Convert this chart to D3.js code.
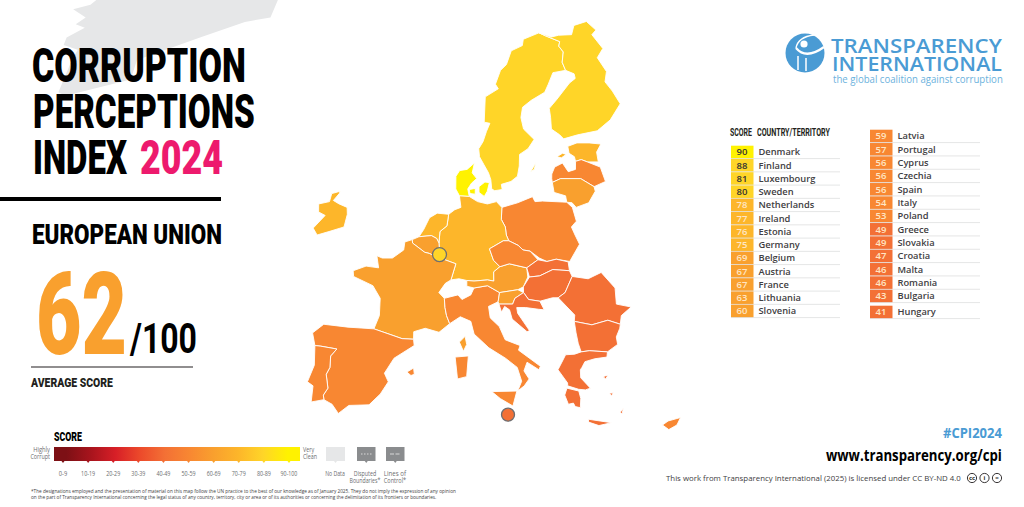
<!DOCTYPE html>
<html>
<head>
<meta charset="utf-8">
<script src="https://cdn.jsdelivr.net/npm/d3@7"></script>
<style>
  html, body { margin: 0; padding: 0; background: #fff; }
  svg { display: block; }
  text { font-family: "Open Sans", sans-serif; }
  .heavy { font-family: Roboto, "Open Sans", sans-serif; }
</style>
</head>
<body>
<svg id="chart" width="1024" height="507"></svg>
<script>
// ranking
var leftCountries = ["Denmark", "Finland", "Luxembourg", "Sweden", "Netherlands", "Ireland", "Estonia", "Germany", "Belgium", "Austria", "France", "Lithuania", "Slovenia"];
var leftScores = [90, 88, 81, 80, 78, 77, 76, 75, 69, 67, 67, 63, 60];
var rightCountries = ["Latvia", "Portugal", "Cyprus", "Czechia", "Spain", "Italy", "Poland", "Greece", "Slovakia", "Croatia", "Malta", "Romania", "Bulgaria", "Hungary"];
var rightScores = [59, 57, 56, 56, 56, 54, 53, 49, 49, 47, 46, 46, 43, 41];

var legendLabels = ["0-9", "10-19", "20-29", "30-39", "40-49", "50-59", "60-69", "70-79", "80-89", "90-100"];
var legendColors = ["#7d1015", "#a8141d", "#d71f27", "#ec4a2b", "#f37035", "#f88732", "#f9a02e", "#fdb62a", "#ffd528", "#fff200"];
var legendThresholds = [10, 20, 30, 40, 50, 60, 70, 80, 90];

// outlines as lon/lat
var denmark = [
  [[8.6,54.9],[8.1,55.5],[8.1,56.6],[8.6,57.1],[9.6,57.2],[10.6,57.75],[10.3,56.9],[10.9,56.4],[10.2,56.0],[9.7,55.5],[9.9,54.85]],
  [[11.2,55.7],[12.0,56.1],[12.6,56.05],[12.3,55.3],[11.9,54.85],[11.2,55.2]],
  [[9.9,55.45],[10.7,55.55],[10.7,55.05],[10.0,55.1]]
];
var sweden = [
  [[20.55,69.06],[18.1,68.5],[17.9,67.95],[16.2,67.5],[15.4,66.3],[14.5,65.8],[13.7,64.6],[14.1,64.2],[12.2,63.5],[12.0,61.3],[12.8,61.2],[12.3,60.5],[11.8,59.6],[11.2,59.0],[11.3,58.3],[11.9,57.6],[12.5,56.9],[12.8,56.3],[12.9,55.5],[13.3,55.35],[14.3,55.45],[14.2,55.9],[15.5,56.15],[16.4,56.6],[16.7,57.5],[16.8,58.5],[18.0,59.0],[18.9,59.8],[17.5,60.7],[17.2,61.7],[17.5,62.6],[18.8,63.2],[20.8,63.9],[21.4,64.6],[22.2,65.6],[24.1,65.8],[23.7,66.5],[24.0,67.4],[23.4,67.9],[23.6,68.3],[21.5,68.8]],
  [[18.2,57.0],[19.0,57.8],[18.7,57.2]]
];
var finland = [
  [[20.55,69.06],[21.5,68.8],[23.6,68.3],[23.4,67.9],[24.0,67.4],[23.7,66.5],[24.1,65.8],[25.3,65.5],[25.4,65.1],[24.5,64.7],[22.5,63.3],[21.3,62.5],[21.4,61.7],[21.4,60.7],[22.5,60.2],[23.0,59.85],[25.0,60.2],[27.8,60.55],[29.8,61.5],[31.5,62.9],[30.6,64.0],[29.7,64.8],[30.1,65.7],[29.0,66.9],[30.0,67.7],[28.6,68.9],[29.3,69.3],[28.0,70.05],[26.0,69.7],[25.5,68.9],[23.5,68.85],[22.4,68.7]]
];
var estonia = [
  [[23.5,59.2],[24.8,59.5],[26.5,59.5],[28.1,59.4],[27.4,58.7],[27.5,57.85],[26.0,57.85],[25.2,58.05],[24.4,57.9],[24.3,58.3],[23.6,58.6]],
  [[21.9,58.3],[22.7,58.6],[23.2,58.5],[22.5,58.2]]
];
var latvia = [
  [[21.05,56.8],[21.0,56.4],[21.05,56.07],[22.2,56.4],[24.9,56.4],[26.6,55.7],[28.2,56.15],[27.7,57.4],[26.0,57.85],[25.2,58.05],[24.4,57.9],[24.3,57.2],[23.3,57.0],[22.6,57.75],[21.5,57.4]]
];
var lithuania = [
  [[21.05,56.07],[22.2,56.4],[24.9,56.4],[26.6,55.7],[26.7,55.3],[25.7,54.3],[24.0,53.9],[23.5,54.3],[22.8,54.35],[22.7,54.9],[21.2,55.2]]
];
var poland = [
  [[14.2,53.9],[16.3,54.3],[18.3,54.83],[18.6,54.4],[19.6,54.45],[22.8,54.35],[23.5,53.9],[23.9,52.7],[23.2,52.2],[23.6,51.5],[24.1,50.7],[22.7,49.2],[21.0,49.4],[19.8,49.2],[18.85,49.5],[17.7,50.1],[16.8,50.2],[16.2,50.6],[15.0,51.0],[14.7,51.5],[14.6,52.2],[14.1,52.85]]
];
var germany = [
  [[8.6,54.9],[9.9,54.85],[11.0,54.4],[12.3,54.2],[13.5,54.4],[14.2,53.9],[14.1,52.85],[14.6,52.2],[14.7,51.5],[15.0,51.0],[14.3,51.0],[12.5,50.3],[13.0,49.3],[13.8,48.75],[13.0,48.3],[13.0,47.5],[12.2,47.6],[10.5,47.5],[9.6,47.55],[8.6,47.7],[7.6,47.6],[8.2,49.0],[6.4,49.45],[6.1,50.1],[6.0,50.8],[6.1,51.8],[7.0,52.3],[7.2,53.3],[8.0,53.7],[8.8,53.9]]
];
var netherlands = [
  [[7.2,53.3],[7.0,52.3],[6.1,51.8],[6.0,50.8],[5.7,51.2],[5.0,51.45],[3.4,51.35],[4.0,52.0],[4.7,53.0],[5.7,53.4]]
];
var belgium = [
  [[2.55,51.1],[3.4,51.35],[5.0,51.45],[5.7,51.2],[6.0,50.8],[6.1,50.1],[5.8,49.55],[4.8,49.9],[4.2,50.0],[2.6,50.8]]
];
var luxembourg = [
  [[5.8,49.55],[6.1,50.1],[6.4,49.45]]
];
var france = [
  [[2.55,51.1],[2.6,50.8],[4.2,50.0],[4.8,49.9],[5.8,49.55],[6.4,49.45],[8.2,49.0],[7.6,47.6],[6.9,47.3],[6.1,46.5],[6.8,46.0],[6.9,45.2],[7.1,44.5],[7.5,43.8],[6.2,43.05],[4.5,43.4],[3.1,43.1],[3.1,42.45],[1.7,42.5],[-1.8,43.35],[-1.2,44.5],[-1.2,46.0],[-2.2,47.1],[-4.7,47.9],[-4.8,48.4],[-3.2,48.8],[-1.6,48.65],[-1.9,49.7],[-1.2,49.5],[0.1,49.5],[1.5,50.2],[1.6,50.9]],
  [[9.4,42.7],[9.6,42.0],[9.2,41.4],[8.7,42.2]]
];
var spain = [
  [[-1.8,43.35],[1.7,42.5],[3.1,42.45],[3.2,41.9],[0.8,40.8],[-0.3,39.5],[0.2,38.75],[-0.7,37.7],[-2.0,36.75],[-4.4,36.7],[-5.6,36.0],[-6.4,36.8],[-7.4,37.2],[-7.5,37.6],[-7.0,38.2],[-7.3,39.4],[-6.9,40.0],[-6.9,41.0],[-6.2,41.6],[-8.2,41.85],[-8.9,41.9],[-9.3,43.0],[-8.0,43.75],[-5.0,43.5]],
  [[2.4,39.6],[3.2,39.95],[3.3,39.4],[2.9,39.3]]
];
var portugal = [
  [[-8.9,41.9],[-8.2,41.85],[-6.2,41.6],[-6.9,41.0],[-6.9,40.0],[-7.3,39.4],[-7.0,38.2],[-7.5,37.6],[-7.4,37.2],[-8.9,37.0],[-8.8,38.4],[-9.5,38.75],[-8.8,40.2]]
];
var ireland = [
  [[-6.2,53.9],[-7.3,54.2],[-8.1,54.5],[-7.4,55.1],[-7.3,55.3],[-8.4,55.1],[-8.6,54.4],[-10.0,54.2],[-9.9,53.5],[-9.0,53.2],[-10.4,52.1],[-9.8,51.5],[-8.3,51.8],[-6.4,52.2],[-6.1,53.3]]
];
var italy = [
  [[7.5,43.8],[7.1,44.5],[6.9,45.2],[6.8,46.0],[8.5,46.3],[9.0,45.9],[10.1,46.3],[10.5,46.9],[12.2,47.1],[13.7,46.5],[13.5,45.7],[12.3,45.3],[12.5,44.3],[13.6,43.55],[14.3,42.4],[16.1,41.9],[15.9,41.5],[18.5,40.1],[18.3,39.8],[16.9,40.45],[16.5,39.7],[17.1,39.0],[16.5,38.4],[15.7,37.95],[16.2,38.8],[15.7,40.0],[14.3,40.8],[12.3,41.7],[10.5,42.9],[10.1,44.0],[8.8,44.4]],
  [[8.2,40.9],[9.8,41.0],[9.6,39.2],[8.5,39.0]],
  [[12.6,37.9],[15.6,37.95],[15.1,36.65],[13.6,37.3]]
];
var austria = [
  [[9.6,47.55],[10.5,47.5],[12.2,47.6],[13.0,47.5],[13.0,48.3],[13.8,48.75],[15.0,49.0],[17.2,48.65],[17.3,47.85],[16.7,47.0],[16.0,46.75],[13.7,46.5],[12.2,47.1],[10.5,46.9],[9.6,47.05]]
];
var czechia = [
  [[12.5,50.3],[14.3,51.0],[15.0,51.0],[16.2,50.6],[16.8,50.2],[17.7,50.1],[18.66,49.35],[17.2,48.65],[15.0,49.0],[13.8,48.75],[13.0,49.3]]
];
var slovakia = [
  [[17.2,48.65],[18.66,49.35],[19.8,49.2],[21.0,49.4],[22.5,49.17],[22.6,48.4],[20.5,48.5],[18.8,47.95],[17.5,47.85]]
];
var hungary = [
  [[17.5,47.85],[18.8,47.95],[20.5,48.5],[22.6,48.4],[22.9,47.9],[21.9,46.5],[21.0,46.05],[20.3,46.05],[18.7,45.75],[17.3,45.9],[16.7,46.5],[16.7,47.0]]
];
var slovenia = [
  [[13.7,46.5],[16.0,46.75],[16.7,46.5],[15.6,46.0],[15.3,45.5],[13.6,45.5],[13.5,45.7]]
];
var croatia = [
  [[13.6,45.5],[15.3,45.5],[15.6,46.0],[16.7,46.5],[17.3,45.9],[18.7,45.75],[19.2,45.0],[18.5,45.05],[16.9,45.2],[15.8,45.2],[15.9,44.7],[17.3,43.2],[17.0,43.1],[15.2,44.2],[14.9,45.0],[14.3,45.3],[13.9,44.8]]
];
var romania = [
  [[21.0,46.05],[21.9,46.5],[22.9,47.9],[24.9,47.7],[26.6,48.25],[28.2,46.9],[28.2,45.5],[30.0,45.25],[28.7,44.5],[28.5,43.75],[27.0,44.1],[25.0,43.7],[22.85,44.0],[22.95,44.55]]
];
var bulgaria = [
  [[22.85,44.0],[25.0,43.7],[27.0,44.1],[28.5,43.75],[28.4,43.4],[27.9,42.65],[28.0,42.0],[26.7,41.35],[24.5,41.45],[23.5,41.35],[23.2,42.1],[23.0,43.0]]
];
var greece = [
  [[20.6,39.8],[21.26,40.65],[21.6,41.1],[22.7,41.15],[23.5,41.35],[24.5,41.45],[26.7,41.35],[26.6,40.9],[25.1,40.75],[23.9,40.5],[23.5,40.0],[23.3,39.8],[23.3,39.1],[24.4,38.2],[23.8,38.05],[23.0,38.1],[21.7,38.4],[21.7,38.65]],
  [[21.6,38.2],[23.0,37.95],[23.2,37.3],[23.1,36.5],[22.5,36.6],[22.3,36.9],[21.7,36.8],[21.3,37.6]],
  [[24.0,35.5],[26.7,35.2],[25.2,34.95],[24.0,35.25]],
  [[27.8,36.1],[28.2,36.45],[28.0,35.95]],
  [[26.0,39.2],[26.6,39.35],[26.3,39.0]],
  [[26.6,37.75],[27.1,37.8],[26.9,37.55]]
];
var cyprus = [
  [[32.7,35.0],[33.4,35.35],[34.9,35.65],[34.4,35.0],[33.4,34.6]]
];
var greenland = [
  [[-48.3,72.5],[-49.8,71.5],[-52.2,71.1],[-49.7,70.4],[-50.8,69.8],[-49.2,69.5],[-51.4,68.65],[-51.4,68.0],[-49.0,67.6],[-49.3,66.7],[-49.5,63.9],[-48.3,63.6],[-39.6,65.0],[-39.6,66.7],[-30.9,68.7],[-24.8,70.0],[-21.0,70.4],[-20.2,72.5]]
];

var mapCountries = [
  {name: "Denmark", rings: denmark}, {name: "Sweden", rings: sweden}, {name: "Finland", rings: finland},
  {name: "Estonia", rings: estonia}, {name: "Latvia", rings: latvia}, {name: "Lithuania", rings: lithuania},
  {name: "Poland", rings: poland}, {name: "Germany", rings: germany}, {name: "Netherlands", rings: netherlands},
  {name: "Belgium", rings: belgium}, {name: "Luxembourg", rings: luxembourg}, {name: "France", rings: france},
  {name: "Spain", rings: spain}, {name: "Portugal", rings: portugal}, {name: "Ireland", rings: ireland},
  {name: "Italy", rings: italy}, {name: "Austria", rings: austria}, {name: "Czechia", rings: czechia},
  {name: "Slovakia", rings: slovakia}, {name: "Hungary", rings: hungary}, {name: "Slovenia", rings: slovenia},
  {name: "Croatia", rings: croatia}, {name: "Romania", rings: romania}, {name: "Bulgaria", rings: bulgaria},
  {name: "Greece", rings: greece}, {name: "Cyprus", rings: cyprus}
];
var markerCountries = [
  {name: "Luxembourg", at: [6.1, 49.8], r: 7},
  {name: "Malta", at: [14.5, 35.9], r: 6.5}
];

var scoreByName = {};
leftCountries.forEach(function (c, i) { scoreByName[c] = leftScores[i]; });
rightCountries.forEach(function (c, i) { scoreByName[c] = rightScores[i]; });

var scoreColor = d3.scaleThreshold().domain(legendThresholds).range(legendColors);

// robinson-like: latitudes evenly spaced, meridians pinched toward the pole
var latToY = d3.scaleLinear().domain([35, 70]).range([425, 22]);
var lonStretch = d3.scaleLinear()
  .domain([35, 40, 45, 50, 55, 60, 65, 70, 75])
  .range([8.48, 8.29, 8.07, 7.81, 7.52, 7.19, 6.84, 6.47, 6.06]);
function project(p) {
  return [470 + (p[0] - 10) * lonStretch(p[1]), latToY(p[1])];
}
var ringLine = d3.line()
  .x(function (p) { return project(p)[0]; })
  .y(function (p) { return project(p)[1]; })
  .curve(d3.curveLinearClosed);

var svg = d3.select("#chart");

// grey landmass behind the title
svg.append("g").selectAll("path").data(greenland).enter().append("path")
  .attr("d", ringLine).attr("fill", "#e6e7e8");

// map
var countryGroups = svg.append("g").selectAll("g").data(mapCountries).enter().append("g");
countryGroups.selectAll("path").data(function (d) {
    return d.rings.map(function (r) { return {ring: r, name: d.name}; });
  }).enter().append("path")
  .attr("d", function (d) { return ringLine(d.ring); })
  .attr("fill", function (d) { return scoreColor(scoreByName[d.name]); })
  .attr("stroke", "#fff")
  .attr("stroke-width", 0.9)
  .attr("stroke-linejoin", "round");

svg.append("g").selectAll("circle").data(markerCountries).enter().append("circle")
  .attr("cx", function (d) { return project(d.at)[0]; })
  .attr("cy", function (d) { return project(d.at)[1]; })
  .attr("r", function (d) { return d.r; })
  .attr("fill", function (d) { return scoreColor(scoreByName[d.name]); })
  .attr("stroke", "#6d6e71")
  .attr("stroke-width", 1.3);

// squeezes a text to the width it has in the picture, the condensed fonts are not installed
function fitText(str, x, y, size, width, color, weight, cls, anchor) {
  var t = svg.append("text").attr("class", cls || "heavy")
    .attr("font-size", size).attr("font-weight", weight || 700).attr("fill", color || "#000").text(str);
  var natural = t.node().getComputedTextLength();
  var left = anchor === "end" ? x - width : anchor === "middle" ? x - width / 2 : x;
  t.attr("transform", "translate(" + left + "," + y + ") scale(" + (width / natural) + ",1)");
  return t;
}

// title block
fitText("CORRUPTION", 32, 82, 47.5, 214, "#000", 900);
fitText("PERCEPTIONS", 33, 128, 47.5, 222, "#000", 900);
fitText("INDEX", 33, 174, 47.5, 94, "#000", 900);
fitText("2024", 140, 174, 47.5, 83, "#ed1a6d", 900);
svg.append("rect").attr("x", 0).attr("y", 197).attr("width", 221).attr("height", 4).attr("fill", "#000");
fitText("EUROPEAN UNION", 32, 244, 28, 190, "#000", 900);
fitText("62", 36, 354, 115, 91, "#f9a02e", 900);
fitText("/100", 130, 353, 43, 67, "#000", 700);
svg.append("rect").attr("x", 31).attr("y", 366.5).attr("width", 162).attr("height", 1).attr("fill", "#231f20");
fitText("AVERAGE SCORE", 31, 387, 13.5, 82, "#231f20", 900);

// ranking table
function drawColumn(names, scores, rowY, x0, lineEnd) {
  var rows = svg.append("g").selectAll("g").data(names).enter().append("g");
  rows.append("rect")
    .attr("x", x0).attr("y", function (d) { return rowY(d) - 6.3; })
    .attr("width", 22.5).attr("height", 12.6)
    .attr("fill", function (d, i) { return scoreColor(scores[i]); });
  rows.append("line")
    .attr("x1", x0).attr("x2", lineEnd)
    .attr("y1", function (d) { return rowY(d) + 6.6; })
    .attr("y2", function (d) { return rowY(d) + 6.6; })
    .attr("stroke", "#d1d3d4").attr("stroke-width", 0.6);
  rows.append("text")
    .attr("x", x0 + 11).attr("y", function (d) { return rowY(d) + 3.4; })
    .attr("text-anchor", "middle").attr("font-size", 9.5).attr("font-weight", 600)
    .attr("fill", function (d, i) { return scores[i] >= 80 ? "#333" : "#ffe6c4"; })
    .text(function (d, i) { return scores[i]; });
  rows.append("text")
    .attr("x", x0 + 27.5).attr("y", function (d) { return rowY(d) + 3.4; })
    .attr("font-size", 9.3).attr("font-weight", 600).attr("fill", "#414042")
    .text(function (d) { return d; });
}
var leftRow = d3.scalePoint().domain(leftCountries).range([152, 311]);
var rightRow = d3.scalePoint().domain(rightCountries.slice(0, 13)).range([136, 296]);
function rightRowY(name) {
  return name === "Hungary" ? rightRow("Bulgaria") + 16 : rightRow(name);
}
drawColumn(leftCountries, leftScores, leftRow, 731, 840);
drawColumn(rightCountries, rightScores, rightRowY, 870, 980);
fitText("SCORE", 730, 136, 10, 22, "#231f20", 700);
fitText("COUNTRY/TERRITORY", 757, 136, 10, 73, "#231f20", 700);

// legend
var defs = svg.append("defs");
var grad = defs.append("linearGradient").attr("id", "scoreGrad");
grad.selectAll("stop").data(legendColors).enter().append("stop")
  .attr("offset", function (d, i) { return (i + 0.5) / legendColors.length; })
  .attr("stop-color", function (d) { return d; });
fitText("SCORE", 54, 441, 12.5, 28, "#000", 900);
var legendX = d3.scalePoint().domain(legendLabels).range([63, 289]);
svg.append("rect").attr("x", 54).attr("y", 447).attr("width", 246).attr("height", 14).attr("fill", "url(#scoreGrad)");
function pointer(x, color) {
  svg.append("path")
    .attr("d", "M" + (x - 1.5) + ",461L" + (x + 1.5) + ",461L" + x + ",463Z")
    .attr("fill", color);
}
legendLabels.forEach(function (d) { pointer(legendX(d), scoreColor(+d.split("-")[0])); });

// grey condensed labels, about 2.8px a character in the picture
function greyLabel(lines, x, y, anchor) {
  lines.forEach(function (t, i) {
    fitText(t, x, y + i * 7, 8, t.length * 2.8, "#6d6e71", 400, "base", anchor);
  });
}
legendLabels.forEach(function (d) { greyLabel([d], legendX(d), 476, "middle"); });
greyLabel(["Highly", "Corrupt"], 50, 452, "end");
greyLabel(["Very", "Clean"], 303, 452, "start");
greyLabel(["No Data"], 335, 476, "middle");
greyLabel(["Disputed", "Boundaries*"], 365, 476, "middle");
greyLabel(["Lines of", "Control*"], 395, 476, "middle");
svg.append("rect").attr("x", 326).attr("y", 447).attr("width", 19).attr("height", 14).attr("fill", "#e6e7e8");
pointer(335.5, "#e6e7e8");
[357, 386].forEach(function (x, i) {
  svg.append("rect").attr("x", x).attr("y", 447).attr("width", 18.5).attr("height", 14).attr("fill", "#8a8c8e");
  svg.append("line").attr("x1", x + 4).attr("x2", x + 14.5).attr("y1", 454).attr("y2", 454)
    .attr("stroke", "#d8d8d8").attr("stroke-width", 1).attr("stroke-dasharray", i ? "4,1.5" : "1.5,1.5");
  pointer(x + 9.25, "#8a8c8e");
});
fitText("*The designations employed and the presentation of material on this map follow the UN practice to the best of our knowledge as of January 2025. They do not imply the expression of any opinion", 31, 492.5, 5.4, 426, "#414042", 400, "base");
fitText("on the part of Transparency International concerning the legal status of any country, territory, city or area or of its authorities or concerning the delimitation of its frontiers or boundaries.", 31, 498.5, 5.4, 406, "#414042", 400, "base");

// logo
var logo = svg.append("g");
logo.append("circle").attr("cx", 805).attr("cy", 53).attr("r", 19.5).attr("fill", "#4a9bd4");
logo.append("path").attr("d", "M796,48 Q806,60 824,47").attr("fill", "none").attr("stroke", "#fff").attr("stroke-width", 2.2);
logo.append("path").attr("d", "M796,48 Q798,37 814,35").attr("fill", "none").attr("stroke", "#fff").attr("stroke-width", 1.4);
logo.append("circle").attr("cx", 804).attr("cy", 44).attr("r", 3.6).attr("fill", "#fff");
logo.append("path").attr("d", "M798,56 L798,70 M806,58 L806,71").attr("fill", "none").attr("stroke", "#fff").attr("stroke-width", 1.5);
fitText("TRANSPARENCY", 831, 53, 19.5, 171, "#4a9bd4", 600, "base");
fitText("INTERNATIONAL", 832, 71, 19.5, 170, "#4a9bd4", 600, "base");
fitText("the global coalition against corruption", 833, 83, 10.5, 170, "#6cb2dd", 400, "base");

// footer, right
fitText("#CPI2024", 943, 438, 14.5, 59, "#4a9bd4", 700, "base");
fitText("www.transparency.org/cpi", 826, 461, 16.5, 176, "#000", 700, "base");
fitText("This work from Transparency International (2025) is licensed under CC BY-ND 4.0", 666, 481, 7.6, 295, "#414042", 400, "base");
var ccMarks = ["cc", "i", "="];
svg.append("g").selectAll("circle").data(ccMarks).enter().append("circle")
  .attr("cx", function (d, i) { return 972 + i * 12.5; }).attr("cy", 478).attr("r", 4.6)
  .attr("fill", "#fff").attr("stroke", "#231f20").attr("stroke-width", 0.9);
svg.append("g").selectAll("text").data(ccMarks).enter().append("text")
  .attr("x", function (d, i) { return 972 + i * 12.5; }).attr("y", 480)
  .attr("text-anchor", "middle").attr("font-size", 6).attr("font-weight", 700).attr("fill", "#231f20")
  .text(function (d) { return d; });
</script>
</body>
</html>
